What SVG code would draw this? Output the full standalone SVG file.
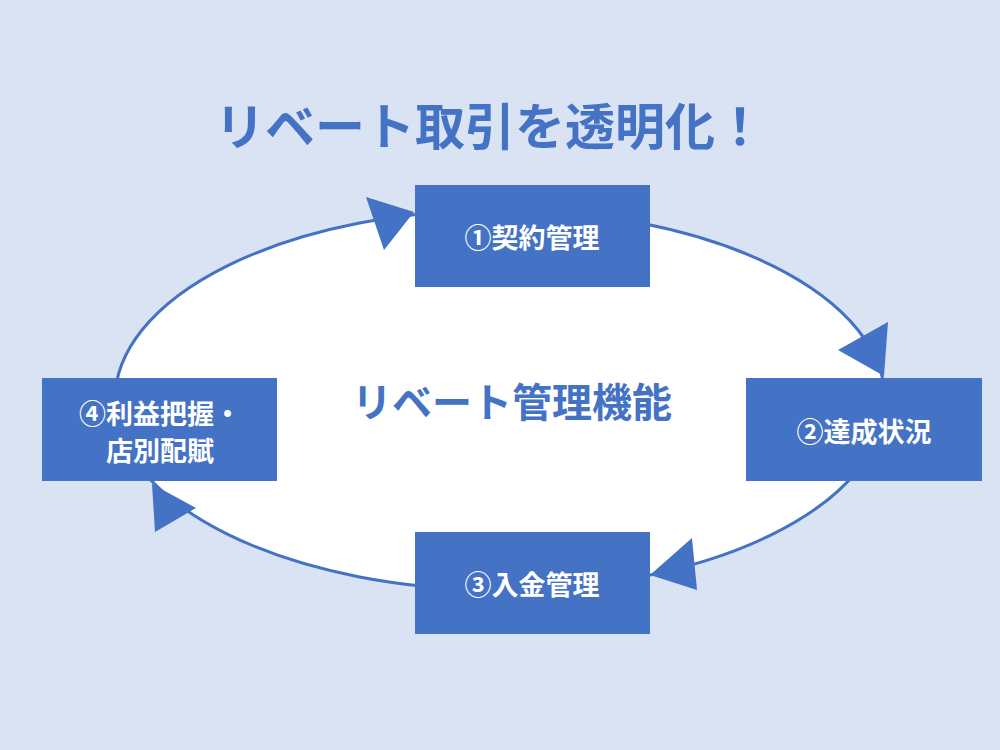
<svg xmlns="http://www.w3.org/2000/svg" width="1000" height="750" viewBox="0 0 1000 750">
<style>
text{font-family:"Noto Sans CJK JP","Noto Sans",sans-serif;font-weight:bold;text-anchor:middle;dominant-baseline:central}
.b{fill:#4472c4}
.t{fill:#fff;font-size:27px}
</style>
<rect width="1000" height="750" fill="#dae3f3"/>
<text x="490" y="123" font-size="50" fill="#4472c4">リベート取引を透明化！</text>
<g id="connectors">
<ellipse cx="500" cy="400" rx="385" ry="190" fill="#fff" stroke="#4472c4" stroke-width="3"/>
<polygon class="b" points="366,197 414,212 384,250"/>
<polygon class="b" points="888,322 838,350 884,376"/>
<polygon class="b" points="692,538 650,575 697,590"/>
<polygon class="b" points="152,484 155,532 196,508"/>
</g>
<text x="512" y="400" font-size="40" fill="#4472c4">リベート管理機能</text>
<g id="n1"><rect class="b" x="415" y="185" width="235" height="102"/><text class="t" x="532" y="236">①契約管理</text></g>
<g id="n2"><rect class="b" x="746" y="378" width="236" height="103"/><text class="t" x="864" y="430">②達成状況</text></g>
<g id="n3"><rect class="b" x="415" y="532" width="235" height="102"/><text class="t" x="532" y="583">③入金管理</text></g>
<g id="n4"><rect class="b" x="42" y="378" width="235" height="103"/><text class="t" x="160" y="412">④利益把握・</text><text class="t" x="160" y="449">店別配賦</text></g>
</svg>
